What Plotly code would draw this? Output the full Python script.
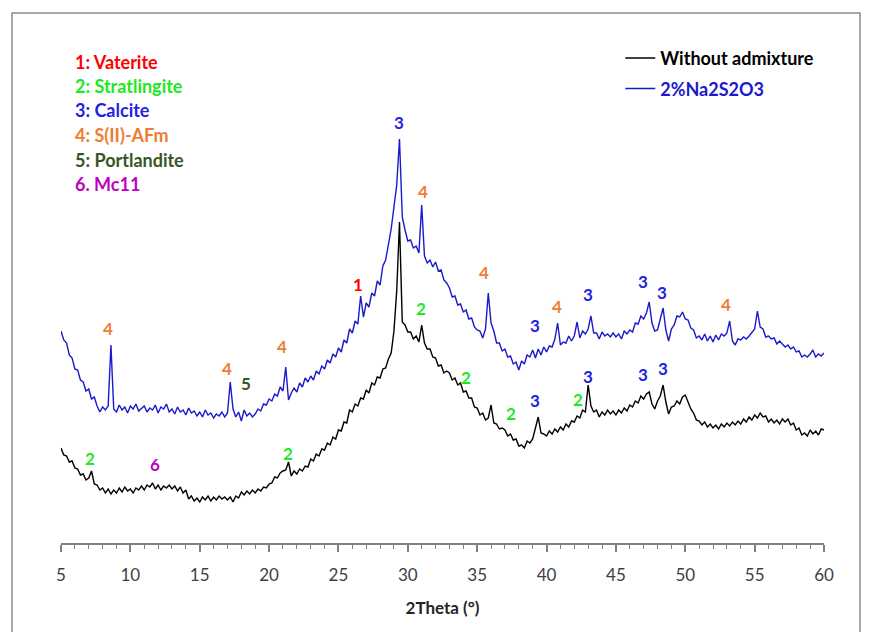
import plotly.graph_objects as go

# 2Theta grid step (degrees) for the digitised patterns, starting at 5°
START_2THETA = 5.0
STEP_2THETA = 0.2

# Intensity (a.u.), 2%Na2S2O3 sample
na2s2o3 = [
    212, 203, 200, 188, 185, 174, 173, 163, 161, 152,
    154, 144, 146, 137, 131, 136, 133, 137, 198, 134,
    131, 138, 133, 136, 130, 137, 134, 139, 132, 135,
    137, 131, 135, 133, 138, 130, 136, 134, 139, 131,
    134, 129, 136, 131, 133, 128, 135, 130, 132, 127,
    131, 126, 133, 128, 130, 125, 129, 127, 131, 126,
    130, 161, 134, 126, 131, 122, 133, 127, 130, 126,
    129, 134, 132, 139, 138, 144, 142, 149, 147, 156,
    152, 176, 143, 150, 155, 151, 160, 156, 165, 161,
    167, 163, 172, 169, 177, 174, 183, 180, 189, 186,
    195, 191, 203, 200, 214, 210, 222, 219, 247, 226,
    240, 236, 250, 247, 262, 258, 277, 283, 297, 314,
    336, 358, 404, 326, 313, 302, 303, 295, 297, 290,
    338, 287, 280, 283, 276, 281, 272, 273, 263, 260,
    255, 246, 247, 238, 239, 231, 233, 224, 225, 216,
    213, 212, 205, 214, 250, 220, 212, 200, 200, 192,
    194, 186, 187, 179, 181, 173, 182, 179, 188, 186,
    193, 185, 194, 188, 196, 191, 197, 196, 204, 220,
    198, 201, 200, 207, 202, 207, 221, 205, 212, 209,
    214, 227, 210, 210, 204, 211, 207, 209, 206, 210,
    206, 209, 204, 212, 209, 213, 211, 220, 219, 227,
    224, 230, 241, 220, 212, 213, 224, 235, 213, 202,
    214, 218, 227, 226, 231, 224, 223, 215, 213, 205,
    207, 203, 209, 202, 207, 201, 208, 203, 209, 207,
    210, 222, 202, 198, 204, 203, 206, 204, 207, 211,
    214, 232, 216, 214, 206, 207, 204, 205, 199, 202,
    199, 196, 198, 194, 196, 191, 192, 186, 188, 186,
    189, 193, 186, 189, 187, 190,
]

# Intensity (a.u.), sample without admixture
without_admixture = [
    95, 88, 87, 81, 82, 75, 74, 68, 69, 63,
    65, 72, 59, 58, 53, 55, 50, 54, 49, 53,
    50, 55, 51, 56, 52, 54, 50, 55, 53, 57,
    53, 58, 56, 60, 54, 58, 53, 57, 55, 58,
    54, 57, 52, 56, 50, 53, 44, 47, 42, 45,
    41, 46, 43, 47, 42, 46, 43, 47, 44, 46,
    43, 46, 41, 47, 45, 51, 48, 52, 49, 53,
    50, 54, 52, 56, 55, 59, 60, 66, 65, 70,
    72, 73, 81, 67, 72, 69, 74, 72, 77, 76,
    84, 82, 89, 87, 94, 93, 100, 98, 106, 104,
    113, 112, 121, 120, 133, 131, 139, 137, 145, 144,
    153, 150, 160, 158, 166, 165, 174, 175, 184, 190,
    212, 252, 321, 221, 218, 211, 211, 204, 207, 201,
    218, 200, 194, 194, 186, 185, 177, 178, 170, 172,
    170, 163, 165, 158, 160, 151, 152, 145, 145, 136,
    135, 128, 130, 123, 125, 138, 120, 119, 114, 115,
    113, 107, 109, 103, 104, 97, 98, 95, 102, 100,
    104, 114, 126, 110, 109, 107, 112, 109, 114, 111,
    116, 113, 119, 116, 122, 121, 127, 125, 133, 131,
    158, 137, 131, 133, 126, 131, 128, 133, 129, 132,
    128, 133, 130, 135, 132, 138, 136, 142, 140, 147,
    144, 149, 151, 139, 134, 142, 147, 158, 141, 129,
    136, 137, 142, 139, 146, 148, 141, 134, 130, 123,
    122, 118, 121, 116, 119, 115, 118, 114, 119, 116,
    120, 117, 121, 118, 122, 119, 124, 121, 126, 123,
    128, 125, 130, 126, 127, 121, 124, 120, 123, 119,
    124, 121, 124, 118, 120, 113, 115, 108, 110, 107,
    113, 109, 112, 108, 114, 113,
]

series_names = ["Without admixture", "2%Na2S2O3"]
series_colors = ["#000000", "#1a1acc"]

# Phase key (number -> phase name, colour)
phase_keys = ["1: Vaterite", "2: Stratlingite", "3: Calcite", "4: S(II)-AFm", "5: Portlandite", "6. Mc11"]
phase_colors = {"1": "#ff0000", "2": "#1ee81e", "3": "#1f1fe6", "4": "#ed7d31", "5": "#375623", "6": "#c000c0"}

# Peak labels: (phase number, 2theta, intensity position)
peak_labels_na2s2o3 = [
    ("4", 8.4, 215), ("4", 17.0, 175), ("5", 18.3, 160), ("4", 20.9, 197),
    ("1", 26.4, 259), ("3", 29.35, 421), ("4", 31.1, 352), ("4", 35.5, 271),
    ("3", 39.2, 218), ("4", 40.75, 237), ("3", 43.0, 249), ("3", 46.95, 262),
    ("3", 48.35, 251), ("4", 52.9, 239),
]
peak_labels_without = [
    ("2", 7.1, 85), ("6", 11.8, 79), ("2", 21.35, 90), ("2", 30.95, 235),
    ("2", 34.2, 166), ("2", 37.45, 130), ("3", 39.2, 143), ("2", 42.3, 144),
    ("3", 43.0, 167), ("3", 46.95, 169), ("3", 48.4, 175),
]

FONT = "Lato"

def grid(n):
    return [round(START_2THETA + STEP_2THETA * i, 1) for i in range(n)]

fig = go.Figure()
fig.add_trace(go.Scatter(
    x=grid(len(without_admixture)), y=without_admixture, mode="lines",
    name="<b>" + series_names[0] + "</b>", legendgroup="a",
    line=dict(color=series_colors[0], width=1.4),
))
fig.add_trace(go.Scatter(
    x=grid(len(na2s2o3)), y=na2s2o3, mode="lines",
    name="<span style='color:" + series_colors[1] + "'><b>" + series_names[1] + "</b></span>",
    legendgroup="b",
    line=dict(color=series_colors[1], width=1.4),
))

annotations = []
for num, xv, yv in peak_labels_na2s2o3 + peak_labels_without:
    annotations.append(dict(
        x=xv, y=yv, xref="x", yref="y", text="<b>" + num + "</b>", showarrow=False,
        font=dict(family=FONT, size=17, color=phase_colors[num]),
    ))

key_y = [0.9197, 0.8738, 0.8279, 0.7801, 0.7323, 0.6864]
for label, yy in zip(phase_keys, key_y):
    annotations.append(dict(
        x=0.0157, y=yy, xref="paper", yref="paper", xanchor="left", yanchor="middle",
        text="<b>" + label + "</b>", showarrow=False,
        font=dict(family=FONT, size=18, color=phase_colors[label[0]]),
    ))

fig.update_layout(
    width=870, height=632,
    margin=dict(l=61, r=46, t=20, b=89),
    paper_bgcolor="white", plot_bgcolor="white",
    annotations=annotations,
    showlegend=True,
    legend=dict(
        x=0.733, y=0.962, xanchor="left", yanchor="top",
        traceorder="grouped", tracegroupgap=4,
        font=dict(family=FONT, size=18, color="#000000"),
        bgcolor="rgba(0,0,0,0)", itemwidth=30,
    ),
    shapes=[dict(
        type="rect", xref="paper", yref="paper",
        x0=-0.0642, x1=1.0472, y0=-0.2, y1=1.0134,
        line=dict(color="#8c8c8c", width=1.5), fillcolor="rgba(0,0,0,0)", layer="below",
    )],
)

fig.update_xaxes(
    range=[5, 60], tick0=5, dtick=5,
    ticks="outside", ticklen=7, tickwidth=1.5, tickcolor="#7f7f7f",
    showline=True, linecolor="#7f7f7f", linewidth=1.5,
    showgrid=False, zeroline=False,
    minor=dict(dtick=1, ticks="outside", ticklen=4, tickwidth=1, tickcolor="#7f7f7f", showgrid=False),
    tickfont=dict(family=FONT, size=17, color="#404040"),
    ticklabelstandoff=9,
    title=dict(text="<b>2Theta (°)</b>", font=dict(family=FONT, size=17, color="#262626"), standoff=18),
)
fig.update_yaxes(range=[0, 523], visible=False, showgrid=False, zeroline=False)

fig.write_html("out.html")
